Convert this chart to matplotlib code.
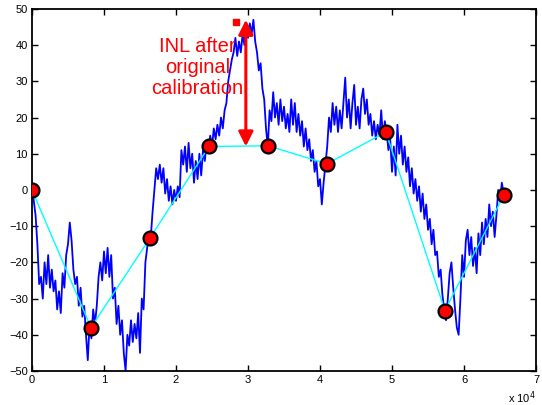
import numpy as np
import matplotlib
matplotlib.use('Agg')
import matplotlib.pyplot as plt
from matplotlib.ticker import FuncFormatter

plt.rcParams['font.family'] = ['Liberation Sans', 'DejaVu Sans']

# INL trace, one value every 250 codes
step = 250
inl = [0, -3, -7, -15, -26, -24, -30, -20, -26, -18,
       -27, -22, -28, -25, -33, -28, -34, -23, -27, -18,
       -15, -9, -14, -22, -26, -24, -32, -27, -35, -32,
       -40, -47, -37, -41, -33, -37, -32, -24, -20, -25,
       -17, -23, -16, -24, -18, -30, -27, -37, -32, -40,
       -36, -45, -50, -40, -43, -36, -42, -37, -41, -34,
       -45, -30, -33, -20, -16, -12, -13, -6, 0, 6,
       3, 7, 2, 6, -1, 3, -3, 1, -4, 0,
       -3, 1, -2, 11, 7, 12, 5, 13, 6, 10,
       2, 8, 3, 10, 4, 11, 8, 13, 11, 15,
       12, 17, 14, 18, 15, 20, 17, 22, 24, 30,
       33, 36, 38, 42, 37, 41, 38, 43, 40, 45,
       42, 46, 43, 47, 41, 38, 33, 35, 28, 25,
       17, 12, 22, 19, 27, 20, 24, 18, 25, 19,
       23, 17, 21, 16, 25, 18, 24, 16, 21, 15,
       19, 12, 17, 11, 14, 8, 11, 5, 8, 1,
       3, -4, 2, 7, 12, 20, 16, 24, 18, 23,
       16, 22, 17, 24, 31, 20, 25, 17, 24, 29,
       18, 23, 17, 25, 28, 21, 25, 18, 21, 15,
       19, 14, 18, 15, 22, 14, 19, 16, 11, 14,
       5, 12, 4, 18, 10, 15, 7, 12, 5, 9,
       1, 6, -1, 3, -3, 1, -6, -1, -8, -4,
       -11, -8, -15, -11, -18, -17, -24, -22, -29, -33,
       -36, -30, -23, -20, -27, -33, -38, -40, -30, -18,
       -24, -14, -11, -18, -13, -21, -16, -23, -12, -18,
       -9, -15, -8, -13, -4, -10, -6, -13, -7, 0,
       -3, 2, -1]
codes = np.arange(len(inl)) * step

# calibration points
cal_x = [0, 8192, 16384, 24576, 32768, 40960, 49152, 57344, 65536]
cal_y = [0, -38, -13.3, 12, 12.2, 7.2, 16, -33.3, -1.4]

fig = plt.figure(figsize=(5.42, 4.05), dpi=100)
ax = fig.add_axes([0.059, 0.084, 0.930, 0.894])

ax.plot(codes, inl, color='#0000ff', lw=1.3, zorder=2)
ax.plot(cal_x, cal_y, color='#00ffff', lw=1.0, zorder=3)
ax.plot(cal_x, cal_y, 'o', ms=10, mfc='#ff0000', mec='black', mew=1.6, lw=0, zorder=4)

# arrow showing INL after original calibration
ax.annotate('', xy=(29700, 47), xytext=(29700, 12),
            arrowprops=dict(arrowstyle='<|-|>', color='#ff0000', lw=2.2,
                            mutation_scale=22, shrinkA=0, shrinkB=0), zorder=5)
ax.plot([28400], [46.5], 's', ms=4, color='#ff0000', zorder=5)
ax.text(23000, 33.8, 'INL after\noriginal\ncalibration', color='#ff0000',
        fontsize=14.5, ha='center', va='center', linespacing=1.15)

ax.set_xlim(0, 70000)
ax.set_ylim(-50, 50)
ax.set_xticks(np.arange(0, 70001, 10000))
ax.set_yticks(np.arange(-50, 51, 10))
ax.xaxis.set_major_formatter(FuncFormatter(lambda v, p: '%g' % (v / 1e4)))
ax.tick_params(direction='in', top=True, right=True, length=4, width=1,
               labelsize=8, pad=3)
for s in ax.spines.values():
    s.set_linewidth(1.3)
ax.text(1.0, -0.075, 'x 10$^4$', transform=ax.transAxes, ha='right',
        va='center', fontsize=8)

fig.savefig('out.png', dpi=100)
